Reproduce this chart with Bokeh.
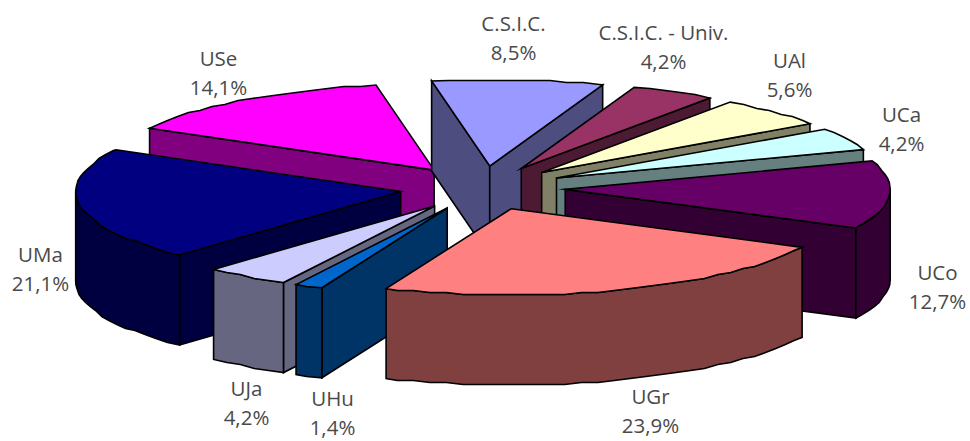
import math
from bokeh.plotting import figure
from bokeh.embed import file_html
from bokeh.resources import INLINE
from bokeh.core.properties import value

# ---- data, clockwise from the first slice ----
names = ["C.S.I.C.", "C.S.I.C. - Univ.", "UAl", "UCa", "UCo", "UGr", "UHu", "UJa", "UMa", "USe"]
shares = [8.5, 4.2, 5.6, 4.2, 12.7, 23.9, 1.4, 4.2, 21.1, 14.1]
top_colors = ["#9999FF", "#993366", "#FFFFCC", "#CCFFFF", "#660066", "#FF8080", "#0066CC", "#CCCCFF", "#000080", "#FF00FF"]
wall_colors = ["#4D4D80", "#4D1A33", "#808066", "#668080", "#330033", "#804040", "#003366", "#666680", "#000040", "#800080"]
paint_order = ["USe", "C.S.I.C.", "C.S.I.C. - Univ.", "UAl", "UCa", "UCo", "UMa", "UJa", "UHu", "UGr"]

# ---- label centres (layout, page pixels) ----
name_pos = {"C.S.I.C.": (513, 22), "C.S.I.C. - Univ.": (663, 31), "UAl": (789, 59), "UCa": (901, 113),
            "UCo": (937, 271), "UGr": (650, 395), "UHu": (332, 397), "UJa": (246, 387), "UMa": (40, 253), "USe": (218, 57)}
LINE_GAP = 29.5

# ---- projection of the exploded pie ----
CX, CY = 482.0, 187.5
RX, RY = 325.0, 86.5
EXPLODE = 0.255
DEPTH = 90.0
FIRST_ANGLE = -10.3
STEP = 3.0
EDGE = "#000000"
EDGE_W = 1.6

W, H = 970, 441
p = figure(width=W, height=H, x_range=(0, W), y_range=(H, 0), output_backend="svg",
           toolbar_location=None, min_border=0, outline_line_color=None, background_fill_color="white")
p.axis.visible = False
p.grid.visible = False


def rim_point(ax, ay, deg, snap=True):
    t = math.radians(deg)
    x, y = ax + RX * math.sin(t), ay - RY * math.cos(t)
    return (x, 2 * round(y / 2)) if snap else (x, y)


def rim(ax, ay, a0, a1):
    pts = [rim_point(ax, ay, a0, False)]
    d = a0 + STEP
    while d < a1 - 0.5:
        pts.append(rim_point(ax, ay, d))
        d += STEP
    pts.append(rim_point(ax, ay, a1, False))
    return pts


def face(pts, color):
    p.patch([q[0] for q in pts], [q[1] for q in pts], fill_color=color, line_color=EDGE,
            line_width=EDGE_W, line_join="miter")


total = sum(shares)
bounds = {}
ang = FIRST_ANGLE
for n, s in zip(names, shares):
    bounds[n] = (ang, ang + s / total * 360.0)
    ang += s / total * 360.0


def cut_visible(A, R, M):
    dx = R[0] - A[0]
    if abs(dx) < 1e-6:
        return False
    return M[1] < A[1] + (M[0] - A[0]) * (R[1] - A[1]) / dx


for n in paint_order:
    i = names.index(n)
    a0, a1 = bounds[n]
    mid = math.radians((a0 + a1) / 2)
    ax = CX + EXPLODE * RX * math.sin(mid)
    ay = CY - EXPLODE * RY * math.cos(mid)
    A = (ax, ay)
    M = rim_point(ax, ay, (a0 + a1) / 2, False)
    wall = wall_colors[i]
    for edge_a in (a0, a1):
        R = rim_point(ax, ay, edge_a, False)
        if cut_visible(A, R, M):
            face([A, R, (R[0], R[1] + DEPTH), (ax, ay + DEPTH)], wall)
    # outer wall: the part of the rim that faces the viewer
    for lo, hi in ((a0, a1), (a0 + 360, a1 + 360)):
        s0, s1 = max(lo, 90.0), min(hi, 270.0)
        if s1 > s0:
            r = rim(ax, ay, s0, s1)
            face(r + [(q[0], q[1] + DEPTH) for q in reversed(r)], wall)
    face([A] + rim(ax, ay, a0, a1), top_colors[i])

xs, ys, txt = [], [], []
for n, s in zip(names, shares):
    x, y = name_pos[n]
    xs += [x, x]
    ys += [y, y + LINE_GAP]
    txt += [n, f"{s:.1f}%".replace(".", ",")]
p.text(xs, ys, text=txt, text_font=value("Open Sans"), text_font_size="20.5px", text_color="#4a4a4a",
       text_align="center", text_baseline="middle")

open("out.html", "w").write(file_html(p, INLINE))
